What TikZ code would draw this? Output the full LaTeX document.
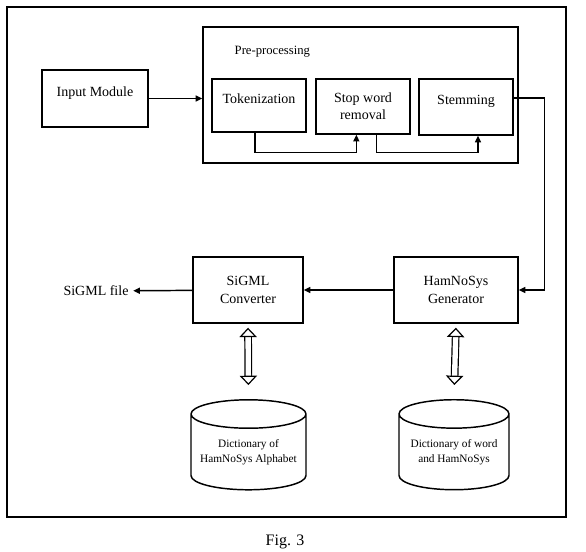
\documentclass[tikz,border=0pt]{standalone}
\usepackage{fontspec}
\setmainfont{Liberation Serif}
\usetikzlibrary{arrows.meta,shapes.geometric}

\begin{document}
\begin{tikzpicture}[x=0.75pt,y=-0.75pt,
    box/.style={rectangle, draw, line width=1.1pt, align=center, font=\fontsize{10.5}{13}\selectfont},
    store/.style={cylinder, shape border rotate=90, aspect=3.2, draw, line width=1.1pt},
    storetext/.style={align=center, font=\fontsize{8.5}{11}\selectfont},
    flow/.style={-{Triangle[length=5pt,width=4.5pt]}, line width=1.1pt},
    link/.style={double, double distance=4pt, line width=0.9pt, {Triangle[open,length=7pt,width=13pt,line width=0.9pt]}-{Triangle[open,length=7pt,width=13pt,line width=0.9pt]}}]
    \useasboundingbox (0,0) rectangle (586,551);

    %%%%%%%%%% Cornice %%%%%%%%%%
    \draw[line width=1.1pt] (7,7) rectangle (566,517);

    %%%%%%%%%% Nodi %%%%%%%%%%
    \node[box, minimum width=236.25pt, minimum height=102pt] (pre) at (360.5,95) {};
    \node[anchor=west, font=\fontsize{9.5}{11}\selectfont] (prelabel) at (230,52) {Pre-processing};
    \node[box, minimum width=79.5pt, minimum height=42.75pt, text depth=11pt] (input) at (95,98.5) {Input Module};
    \node[box, minimum width=70.5pt, minimum height=39.75pt, text depth=11pt] (tok) at (259,105.5) {Tokenization};
    \node[box, minimum width=70.5pt, minimum height=41.25pt] (stop) at (363,106.5) {Stop word\\removal};
    \node[box, minimum width=70.5pt, minimum height=42pt, text depth=11pt] (stem) at (466,107) {Stemming};
    \node[box, minimum width=93pt, minimum height=49.5pt] (ham) at (456,290) {HamNoSys\\Generator};
    \node[box, minimum width=82.5pt, minimum height=49.5pt] (sigml) at (248,290) {SiGML\\Converter};
    \node[font=\fontsize{10.5}{13}\selectfont] (file) at (96,291) {SiGML file};
    \node[store, minimum width=86.25pt, minimum height=67.5pt] (dictA) at (248.5,455) {};
    \node[store, minimum width=82.5pt, minimum height=67.5pt] (dictW) at (454,455) {};
    \node[storetext] (dictAtext) at (248.5,452) {Dictionary of\\HamNoSys Alphabet};
    \node[storetext] (dictWtext) at (454,452) {Dictionary of word\\and HamNoSys};
    \node[font=\fontsize{12}{14}\selectfont] (fig) at (285,542) {Fig. 3};

    %%%%%%%%% Archi %%%%%%%%%%
    \draw[flow] (input) -- (input -| pre.west);
    \draw[flow] ([xshift=-3pt]tok.south) -- ++(0,20) -| ([xshift=-5pt]stop.south);
    \draw[flow] ([xshift=10pt]stop.south) -- ++(0,18) -| ([xshift=9pt]stem.south);
    \draw[flow] ([yshift=6.75pt]stem.east) -- ++(31,0) |- (ham.east);
    \draw[flow] (ham) -- (sigml);
    \draw[flow] (sigml) -- (file);
    \draw[link, shorten <=3pt, shorten >=10.5pt] (sigml.south) -- (dictA.north);
    \draw[link, shorten <=3pt, shorten >=10.5pt] (ham.south) -- (dictW.north);
\end{tikzpicture}
\end{document}
